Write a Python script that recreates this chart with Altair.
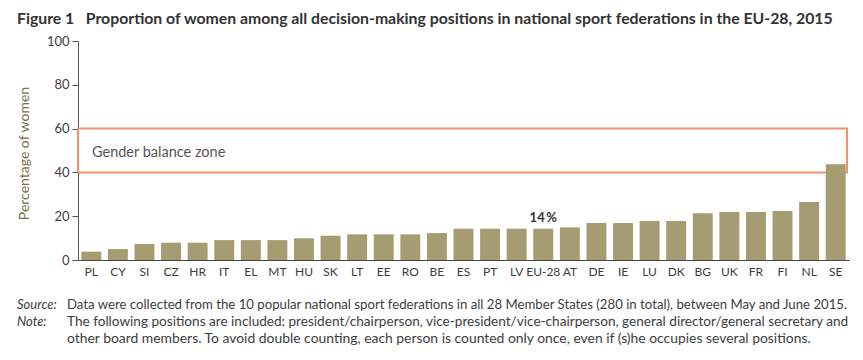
import altair as alt
import pandas as pd

countries = ["PL", "CY", "SI", "CZ", "HR", "IT", "EL", "MT", "HU", "SK", "LT", "EE", "RO", "BE",
             "ES", "PT", "LV", "EU-28", "AT", "DE", "IE", "LU", "DK", "BG", "UK", "FR", "FI", "NL", "SE"]
values = [3.8, 5.0, 7.3, 7.9, 7.9, 9.1, 9.1, 9.1, 9.9, 11.1, 11.7, 11.7, 11.7, 12.3,
          14.3, 14.3, 14.3, 14.3, 14.9, 16.9, 16.9, 17.8, 17.8, 21.3, 21.9, 21.9, 22.4, 26.5, 43.7]
y_ticks = [0, 20, 40, 60, 80, 100]
zone = {"low": 40, "high": 60, "label": "Gender balance zone"}
highlight = {"country": "EU-28", "label": "14\u2009%"}

title_text = "Figure 1\u00a0\u00a0\u00a0Proportion of women among all decision-making positions in national sport federations in the EU-28, 2015"
source_label = "Source:"
source_text = "Data were collected from the 10 popular national sport federations in all 28 Member States (280 in total), between May and June 2015."
note_label = "Note:"
note_lines = ["The following positions are included: president/chairperson, vice-president/vice-chairperson, general director/general secretary and",
              "other board members. To avoid double counting, each person is counted only once, even if (s)he occupies several positions."]

W, H = 771, 219
FONT = "Lato"

df = pd.DataFrame({"country": countries, "value": values})
hl = df[df["country"] == highlight["country"]].assign(label=highlight["label"])
zone_df = pd.DataFrame([zone])

xenc = alt.X("country:N", sort=countries,
             scale=alt.Scale(paddingInner=0.25, paddingOuter=0.125),
             axis=alt.Axis(title=None, labelAngle=0, ticks=False, domainColor="#444444",
                           domainWidth=1.2, labelFont=FONT, labelFontSize=12, labelColor="#3d3d3d",
                           labelPadding=6))
yscale = alt.Scale(domain=[0, 100], nice=False)

bars = alt.Chart(df).mark_bar(color="#A59C72").encode(
    x=xenc,
    y=alt.Y("value:Q", scale=yscale,
            axis=alt.Axis(values=y_ticks, grid=False, title="Percentage of women",
                          domainColor="#555555", tickColor="#555555", tickSize=6,
                          labelFont=FONT, labelFontSize=13, labelColor="#3d3d3d", labelPadding=3,
                          titleFont=FONT, titleFontSize=14, titleFontWeight="normal",
                          titleColor="#76704E", titleX=-54, titleY=112,
                          titleAlign="center", titleBaseline="middle")),
)

rect = alt.Chart(zone_df).mark_rect(fill=None, stroke="#F4906E", strokeWidth=2).encode(
    x=alt.value(0), x2=alt.value(769),
    y=alt.Y("low:Q", scale=yscale), y2="high:Q",
)

zone_text = alt.Chart(zone_df).mark_text(align="left", baseline="alphabetic", dy=6.5,
                                         font=FONT, fontSize=14.5, color="#555555").encode(
    x=alt.value(14),
    y=alt.Y("mid:Q", scale=yscale),
    text="label:N",
).transform_calculate(mid="(datum.low + datum.high) / 2")

hl_text = alt.Chart(hl).mark_text(baseline="alphabetic", dy=-6.7, font=FONT, fontSize=13,
                                  fontWeight="bold", color="#333333").encode(
    x=alt.X("country:N", sort=countries),
    y=alt.Y("value:Q", scale=yscale),
    text="label:N",
)

def txt(s, x, y, font=FONT, size=13, weight="normal", style="normal", color="#3d3d3d"):
    return alt.Chart(pd.DataFrame({"t": [s]})).mark_text(
        align="left", baseline="alphabetic", font=font, fontSize=size,
        fontWeight=weight, fontStyle=style, color=color).encode(
        x=alt.value(x), y=alt.value(y), text="t:N")

title = txt(title_text, -61, -17, size=15.8, weight="bold", color="#333333")
src_l = txt(source_label, -61, 268, style="italic")
src_t = txt(source_text, -11, 268, size=13.2)
note_l = txt(note_label, -61, 285, style="italic")
note_t1 = txt(note_lines[0], -11, 285, size=13.6)
note_t2 = txt(note_lines[1], -11, 302, size=13.9)

chart = alt.layer(rect, bars, zone_text, hl_text, title, src_l, src_t, note_l, note_t1, note_t2).properties(
    width=W, height=H,
    autosize=alt.AutoSizeParams(type="none"),
    padding={"left": 70, "top": 33, "right": 6, "bottom": 92},
).configure_view(stroke=None)

chart.save("out.html", embed_options={"renderer": "svg", "actions": False})
